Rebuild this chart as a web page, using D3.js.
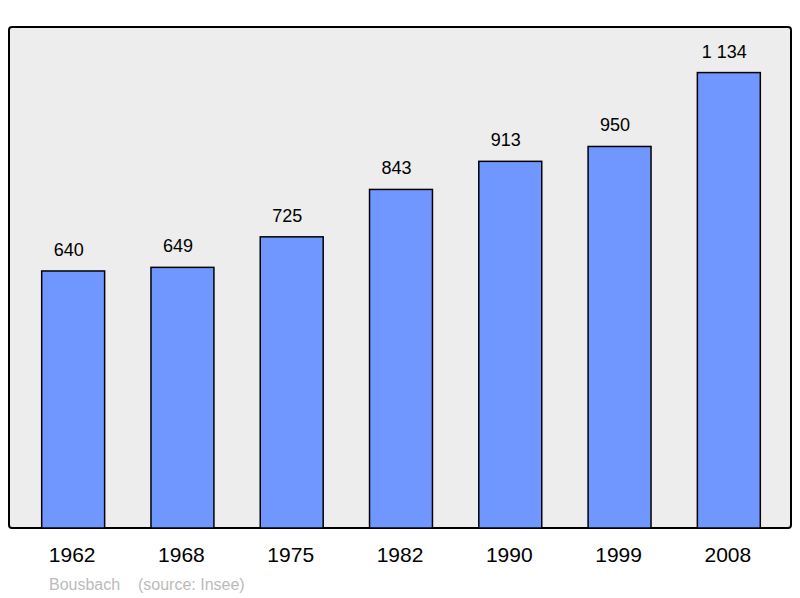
<!DOCTYPE html>
<html><head><meta charset="utf-8">
<script src="https://cdn.jsdelivr.net/npm/d3@7"></script>
<style>body{margin:0;background:#fff}</style></head>
<body><svg id="c" width="800" height="598"></svg>
<script>
const years = ["1962","1968","1975","1982","1990","1999","2008"];
const population = [640,649,725,843,913,950,1134];
const valueLabels = ["640","649","725","843","913","950","1 134"];

const svg = d3.select("#c");
const L=9,R=791,T=27,B=528;
svg.append("rect").attr("x",L).attr("y",T).attr("width",R-L).attr("height",B-T)
  .attr("rx",3).attr("fill","#ededed").attr("stroke","#000").attr("stroke-width",2);
const x = d3.scaleBand().domain(years).range([L+1,R+1]).paddingInner(0.424).paddingOuter(0.29);
const y = d3.scaleLinear().domain([0,1247.5]).range([B,T]);
svg.selectAll(".bar").data(population).enter().append("rect")
  .attr("x",(d,i)=>x(years[i])).attr("y",d=>y(d)).attr("width",x.bandwidth())
  .attr("height",d=>B-y(d)).attr("fill","#7096ff").attr("stroke","#000").attr("stroke-width",1.5);
svg.selectAll(".v").data(population).enter().append("text")
  .attr("x",(d,i)=>x(years[i])+x.bandwidth()/2-4.5).attr("y",d=>y(d)-15)
  .attr("text-anchor","middle").attr("font-family","Liberation Sans, Arial, sans-serif")
  .attr("font-size",18).text((d,i)=>valueLabels[i]);
const ax = svg.append("g").attr("transform",`translate(-1,${B})`).call(d3.axisBottom(x).tickSize(0).tickPadding(19));
ax.select(".domain").remove();
ax.selectAll("text").attr("font-family","Liberation Sans, Arial, sans-serif").attr("font-size",21).attr("fill","#000");
svg.append("text").attr("x",49).attr("y",590).attr("fill","#bbb")
  .attr("font-family","Liberation Sans, Arial, sans-serif").attr("font-size",16)
  .attr("xml:space","preserve").style("white-space","pre").text("Bousbach    (source: Insee)");
</script></body></html>
